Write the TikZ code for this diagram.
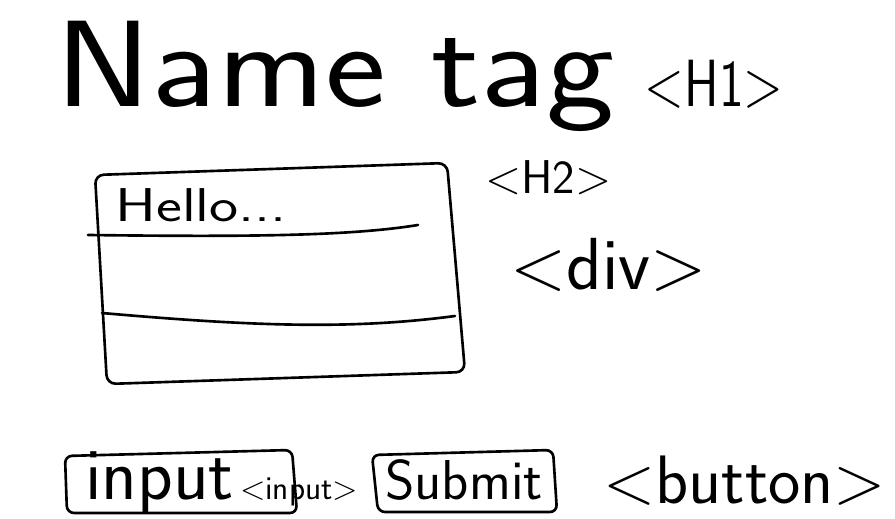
\documentclass[tikz,border=0pt]{standalone}
\usepackage{tikz}
\usetikzlibrary{positioning}

\begin{document}
\begin{tikzpicture}[
    x=0.02cm, y=-0.02cm,
    node distance=0.6cm,
    sketch/.style={line width=1.5pt, line cap=round, line join=round},
    hand/.style={inner sep=0pt, anchor=base west},
    huge/.style={font=\sffamily\fontsize{70}{70}\selectfont},
    big/.style={font=\sffamily\fontsize{42}{42}\selectfont},
    mid/.style={font=\sffamily\fontsize{32}{32}\selectfont},
    small/.style={font=\sffamily\fontsize{27}{27}\selectfont},
    tiny/.style={font=\sffamily\fontsize{19}{19}\selectfont}
]
    \useasboundingbox (0,0) rectangle (895,519);

    % heading
    \node[hand, huge] (title) at (55,107) {\scalebox{1.18}[1]{Name tag}};
    \node[hand, font=\sffamily\fontsize{38}{38}\selectfont, base right=of title]
        (hone) {\scalebox{0.78}[1]{\textless H1\textgreater}};

    % card
    \draw[sketch, rounded corners=5pt] (95,175) -- (447,163) -- (465,372) -- (107,384) -- cycle;
    \draw[sketch] (88,235) .. controls (250,237) and (350,236) .. (418,225);
    \draw[sketch] (102,313) .. controls (250,326) and (350,330) .. (455,316);
    \node[hand, small] (hello) at (115,222) {\scalebox{1.3}[1]{Hello...}};
    \node[hand, small] (htwo) at (485,194) {\textless H2\textgreater};
    \node[hand, big] (divtag) at (510,290) {\textless div\textgreater};

    % form row
    \draw[sketch, rounded corners=4pt] (65,456) -- (292,450) -- (297,513) -- (67,513) -- cycle;
    \node[hand, big] (inputtxt) at (85,500) {input};
    \node[hand, tiny, base right=3pt of inputtxt] (inputtag) {\textless input\textgreater};
    \draw[sketch, rounded corners=4pt] (372,455) -- (553,450) -- (557,512) -- (378,512) -- cycle;
    \node[hand, mid] (submit) at (385,500) {Submit};
    \node[hand, font=\sffamily\fontsize{39}{39}\selectfont] (button) at (603,503) {\textless button\textgreater};
\end{tikzpicture}
\end{document}
